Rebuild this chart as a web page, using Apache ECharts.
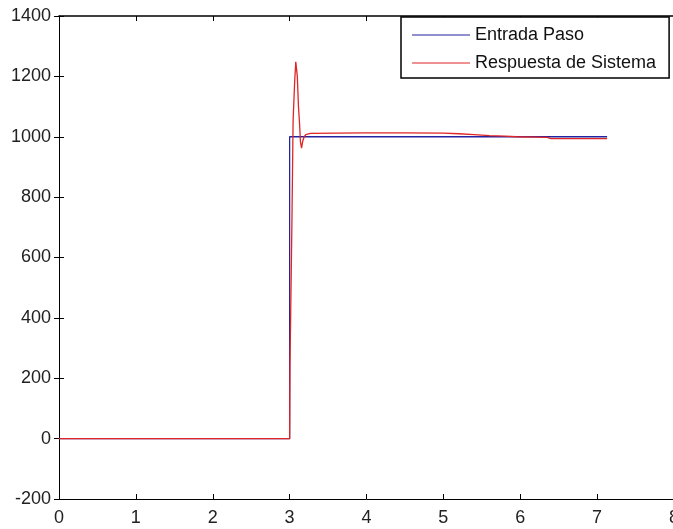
<!DOCTYPE html>
<html>
<head>
<meta charset="utf-8">
<script src="https://cdn.jsdelivr.net/npm/echarts@6/dist/echarts.min.js"></script>
<style>
html,body{margin:0;padding:0;background:#fff;}
#chart{width:673px;height:529px;}
</style>
</head>
<body>
<div id="chart"></div>
<script>
// Data
const seriesNames = ['Entrada Paso', 'Respuesta de Sistema'];
const stepX = [0, 3.0, 3.0, 7.13];
const stepY = [0, 0, 1000, 1000];
const respX = [0, 3.0, 3.005, 3.03, 3.045, 3.065, 3.08, 3.09, 3.1, 3.115, 3.13, 3.14, 3.155, 3.17, 3.19, 3.21, 3.27, 3.6, 4.0, 4.5, 5.0, 5.2, 5.4, 5.6, 5.8, 5.95, 6.2, 6.35, 6.4, 6.8, 7.13];
const respY = [0, 0, 250, 720, 1050, 1180, 1248, 1245, 1200, 1100, 1040, 985, 962, 985, 1000, 1007, 1011, 1012, 1013, 1013, 1012, 1010, 1007, 1004, 1002, 1000, 999, 998, 994, 994, 994];
const xTicks = {min: 0, max: 8, interval: 1};
const yTicks = {min: -200, max: 1400, interval: 200};

const pairs = (xs, ys) => xs.map((x, i) => [x, ys[i]]);

const chart = echarts.init(document.getElementById('chart'), null, {renderer: 'canvas'});
const font = "'Liberation Sans', Arial, sans-serif";
const plain = v => String(v);
const axisCommon = {
  axisLine: {show: true, onZero: false, lineStyle: {color: '#000', width: 1}},
  axisTick: {show: true, inside: true, length: 5, lineStyle: {color: '#000'}},
  splitLine: {show: false},
  axisLabel: {color: '#222', fontSize: 18, fontFamily: font, formatter: plain}
};
chart.setOption({
  backgroundColor: '#fff',
  animation: false,
  grid: {left: 59, top: 16, width: 615, height: 483, containLabel: false, outerBoundsMode: 'none'},
  legend: {
    orient: 'vertical',
    left: 401, top: 17,
    data: seriesNames,
    icon: 'rect',
    itemWidth: 58, itemHeight: 1,
    itemGap: 8,
    padding: [8, 13, 5, 11],
    borderColor: '#000', borderWidth: 1.5,
    backgroundColor: '#fff',
    textStyle: {color: '#111', fontSize: 18, fontFamily: font, lineHeight: 20}
  },
  xAxis: [
    Object.assign({type: 'value', position: 'bottom', min: xTicks.min, max: xTicks.max, interval: xTicks.interval}, axisCommon,
      {axisLabel: Object.assign({}, axisCommon.axisLabel, {margin: 10, showMaxLabel: true})}),
    Object.assign({type: 'value', position: 'top', min: xTicks.min, max: xTicks.max, interval: xTicks.interval}, axisCommon,
      {axisLabel: {show: false}, axisLine: {show: true, onZero: false, lineStyle: {color: '#000', width: 1.5}}})
  ],
  yAxis: [
    Object.assign({type: 'value', position: 'left', min: yTicks.min, max: yTicks.max, interval: yTicks.interval}, axisCommon,
      {axisLabel: Object.assign({}, axisCommon.axisLabel, {margin: 8})}),
    Object.assign({type: 'value', position: 'right', min: yTicks.min, max: yTicks.max, interval: yTicks.interval}, axisCommon,
      {axisLabel: {show: false}, axisLine: {show: false}})
  ],
  series: [
    {name: seriesNames[0], type: 'line', data: pairs(stepX, stepY), showSymbol: false, symbol: 'none',
      color: '#2323a0', lineStyle: {color: '#2323a0', width: 1.3}},
    {name: seriesNames[1], type: 'line', data: pairs(respX, respY), showSymbol: false, symbol: 'none',
      color: '#e02525', lineStyle: {color: '#e02525', width: 1.3}}
  ]
});
</script>
</body>
</html>
